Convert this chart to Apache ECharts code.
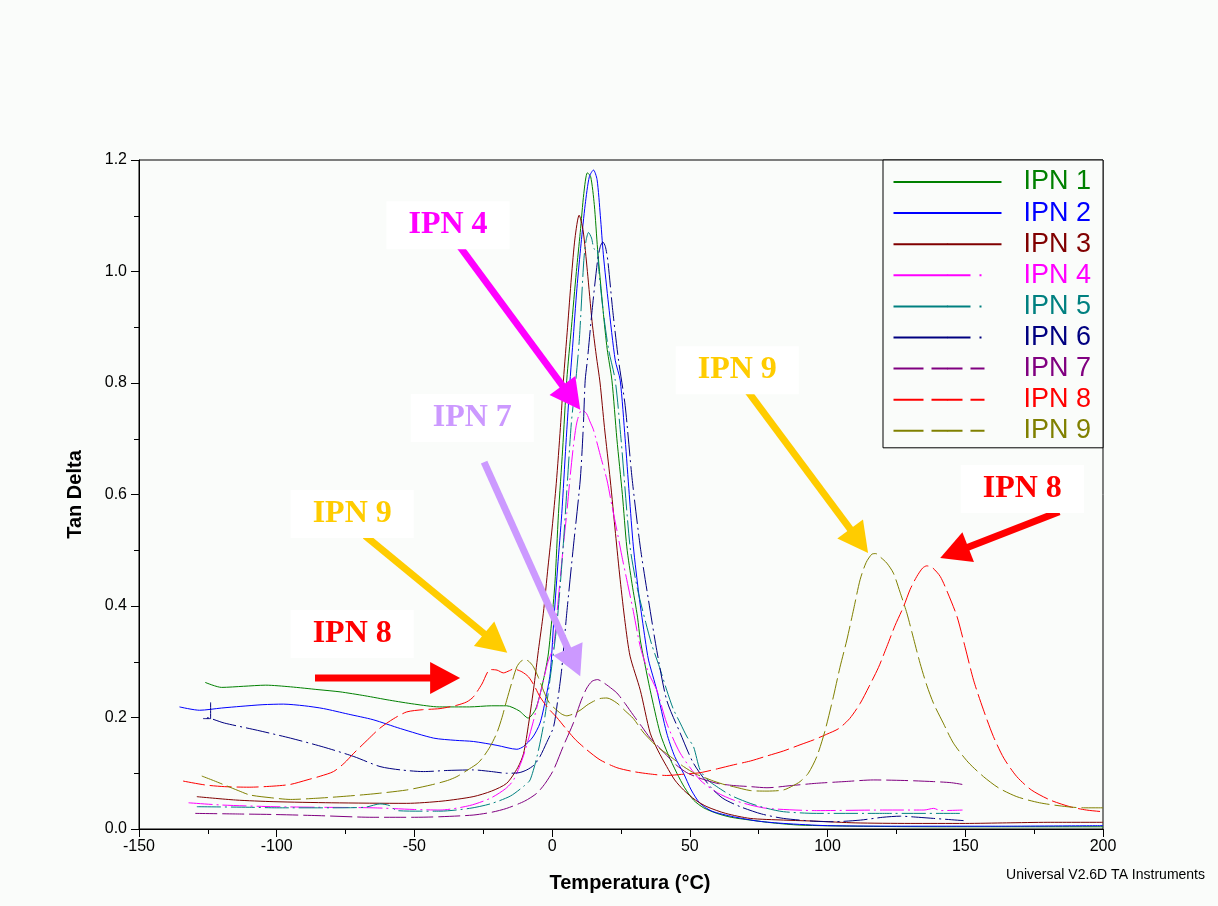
<!DOCTYPE html>
<html>
<head>
<meta charset="utf-8">
<script src="https://cdn.jsdelivr.net/npm/echarts@6/dist/echarts.min.js"></script>
<style>html,body{margin:0;padding:0;background:#fafcfa}#c{width:1218px;height:906px}</style>
</head>
<body>
<div id="c"></div>
<script>
// ---- data (temperature °C, tan delta) ----
const seriesNames = ['IPN 1','IPN 2','IPN 3','IPN 4','IPN 5','IPN 6','IPN 7','IPN 8','IPN 9'];
const xTicks = [-150,-100,-50,0,50,100,150,200];
const yTicks = [0.0,0.2,0.4,0.6,0.8,1.0,1.2];

const ipn1 = [[-126,0.263],[-120,0.254],[-112,0.256],[-104,0.258],[-95,0.255],[-85,0.25],[-77,0.246],[-68,0.239],[-59,0.231],[-50,0.224],[-41,0.219],[-30,0.219],[-22,0.221],[-16.5,0.221],[-12,0.212],[-8.7,0.199],[-6,0.215],[-3.5,0.26],[-1.5,0.31],[-0.3,0.366],[1,0.44],[2.3,0.566],[3.8,0.68],[5.3,0.805],[7,0.9],[8.8,1.0],[10.2,1.07],[11.5,1.14],[12.8,1.177],[14,1.17],[15.3,1.12],[16.5,1.04],[18.5,0.93],[20,0.86],[21.7,0.805],[23.5,0.7],[25.5,0.6],[27.1,0.506],[29,0.44],[31,0.38],[32,0.339],[33.5,0.3],[35.6,0.249],[39.2,0.172],[42,0.135],[45.3,0.1],[48,0.075],[51.3,0.052],[55,0.038],[59.8,0.028],[65,0.021],[71.9,0.016],[80,0.011],[90,0.007],[110,0.005],[140,0.004],[170,0.004],[200,0.004]];
const ipn2 = [[-135.3,0.219],[-128,0.213],[-120,0.217],[-113,0.22],[-105,0.223],[-97.6,0.224],[-90,0.221],[-83,0.216],[-74,0.206],[-65,0.196],[-55,0.18],[-43,0.163],[-35,0.159],[-28.6,0.157],[-20,0.15],[-12.8,0.143],[-10.4,0.148],[-7,0.165],[-4.4,0.19],[-2.5,0.23],[-0.7,0.279],[0.5,0.366],[2,0.47],[3.5,0.566],[5,0.69],[6.5,0.805],[7.5,0.87],[9,0.97],[10.5,1.05],[12,1.12],[13.5,1.17],[15,1.182],[16.3,1.165],[17.5,1.1],[18.6,1.03],[20.5,0.94],[22.9,0.841],[24.7,0.805],[26.5,0.7],[28,0.6],[29.5,0.506],[31.5,0.42],[33.8,0.339],[35,0.303],[38,0.249],[41.6,0.172],[44.5,0.13],[47.7,0.1],[50.5,0.07],[53.7,0.046],[58,0.032],[65.8,0.022],[75,0.014],[84,0.01],[100,0.006],[130,0.005],[160,0.005],[200,0.006]];
const ipn3 = [[-129,0.058],[-115,0.052],[-101,0.049],[-80,0.047],[-52.8,0.046],[-40,0.05],[-28.7,0.058],[-22,0.068],[-16.5,0.082],[-12.5,0.11],[-10.4,0.135],[-8.5,0.19],[-6.5,0.26],[-5,0.32],[-3.2,0.387],[-1.5,0.47],[0,0.54],[1.5,0.62],[3,0.72],[4.1,0.805],[5.6,0.9],[7,0.99],[8.3,1.06],[9.8,1.101],[11.2,1.075],[12.8,1.0],[14.5,0.91],[16,0.85],[17.4,0.8],[19,0.72],[21.1,0.626],[23,0.53],[24.7,0.447],[26.5,0.37],[28.3,0.31],[32,0.249],[35.6,0.172],[38.5,0.14],[41.6,0.112],[44.5,0.088],[47.7,0.07],[52,0.052],[56.2,0.04],[63,0.028],[71.9,0.019],[84,0.016],[96,0.014],[110,0.011],[130,0.01],[150,0.01],[165,0.011],[180,0.012],[200,0.012]];
const ipn4 = [[-132,0.047],[-120,0.043],[-101,0.04],[-85,0.039],[-65,0.038],[-50,0.035],[-40.7,0.034],[-30,0.042],[-22.5,0.055],[-17,0.072],[-14,0.088],[-10.5,0.13],[-7,0.19],[-4,0.25],[-1.5,0.3],[0.5,0.327],[1.8,0.39],[2.9,0.447],[4.1,0.51],[5.3,0.566],[6.5,0.63],[7.7,0.686],[9,0.73],[10.8,0.752],[12.5,0.745],[13.8,0.73],[15,0.716],[17.5,0.67],[19.9,0.626],[21.7,0.58],[23.5,0.536],[25.3,0.49],[27.1,0.447],[29.5,0.39],[32,0.327],[35,0.28],[38,0.249],[41.6,0.19],[46.5,0.136],[53.7,0.088],[60,0.065],[65.8,0.052],[72,0.043],[78,0.037],[96,0.033],[120,0.034],[135,0.034],[138.5,0.037],[141,0.033],[149,0.034]];
const ipn5 = [[-129,0.04],[-110,0.039],[-100,0.038],[-80,0.038],[-68,0.039],[-62.5,0.045],[-59,0.042],[-56.4,0.033],[-48,0.032],[-40.7,0.032],[-30,0.037],[-22.5,0.045],[-15.2,0.059],[-10,0.078],[-8,0.088],[-5.5,0.13],[-3,0.19],[-1,0.26],[1.7,0.366],[3.9,0.5],[5.5,0.62],[7,0.73],[8.5,0.8],[9.9,0.88],[11.5,1.02],[12.3,1.055],[13.2,1.07],[14.3,1.06],[15.3,1.04],[16.2,1.042],[17,1.0],[18.5,0.93],[20.5,0.86],[22.9,0.805],[25,0.7],[28.3,0.506],[31,0.43],[34,0.37],[36.2,0.33],[39,0.29],[41.6,0.249],[44,0.215],[46.5,0.19],[49,0.165],[51.3,0.148],[53.7,0.106],[56.5,0.088],[59.8,0.076],[65,0.06],[71.9,0.046],[78,0.037],[84,0.031],[96,0.028],[120,0.028],[149,0.028]];
const ipn6 = [[-124,0.227],[-124,0.198],[-126.7,0.198],[-126,0.2],[-119,0.19],[-107,0.177],[-95,0.163],[-83,0.147],[-72,0.13],[-62.5,0.112],[-55,0.106],[-46.7,0.103],[-38,0.105],[-28.6,0.106],[-22,0.103],[-16.5,0.1],[-12,0.101],[-9.2,0.106],[-6.5,0.115],[-4.4,0.13],[-2,0.155],[0.5,0.183],[2,0.23],[3.5,0.288],[5.3,0.387],[7.7,0.506],[10.2,0.626],[11.3,0.72],[12,0.805],[12.8,0.841],[14.5,0.93],[16.5,1.02],[17.5,1.045],[18.4,1.053],[19.3,1.045],[20.2,1.02],[22,0.93],[24.1,0.841],[26.5,0.76],[29,0.63],[32,0.506],[35,0.41],[38,0.32],[41.6,0.231],[46.5,0.172],[51.3,0.118],[57.4,0.076],[62,0.055],[68.3,0.04],[76,0.027],[84,0.019],[95,0.014],[102,0.013],[112,0.016],[120,0.021],[126.4,0.023],[133,0.021],[138.5,0.019],[149.4,0.015]];
const ipn7 = [[-129.6,0.028],[-115,0.027],[-101,0.026],[-85,0.024],[-65,0.021],[-50,0.021],[-40.7,0.022],[-28.7,0.025],[-22,0.03],[-16.5,0.037],[-10,0.05],[-5.6,0.064],[-2.5,0.082],[0.5,0.106],[4,0.148],[7.7,0.19],[10.5,0.23],[12.6,0.253],[14.5,0.265],[16.5,0.268],[18.5,0.263],[20.5,0.256],[23.5,0.244],[26.5,0.225],[29.5,0.204],[32.5,0.184],[35.6,0.163],[38.5,0.148],[41.6,0.132],[45,0.115],[48.9,0.101],[53.7,0.091],[59.8,0.082],[65.8,0.078],[72,0.076],[78,0.074],[87,0.078],[96,0.082],[106,0.085],[116.7,0.088],[128,0.087],[138.5,0.085],[145,0.083],[150,0.079]];
const ipn8 = [[-134,0.086],[-126,0.079],[-119,0.076],[-110,0.075],[-101,0.077],[-95,0.08],[-89,0.088],[-84,0.095],[-79.4,0.103],[-75.5,0.118],[-72,0.136],[-67,0.16],[-62.5,0.181],[-57.5,0.198],[-52.8,0.21],[-47,0.214],[-40.7,0.216],[-34.6,0.222],[-31,0.228],[-28.6,0.237],[-25.5,0.26],[-22.5,0.286],[-20,0.285],[-17.7,0.28],[-15.5,0.284],[-14,0.287],[-11,0.282],[-8.6,0.273],[-6.5,0.257],[-4.4,0.237],[-1.5,0.217],[1.7,0.2],[5,0.18],[8.5,0.16],[12.6,0.142],[17.4,0.124],[23.5,0.11],[29.5,0.103],[35,0.099],[41.6,0.096],[47,0.098],[53.7,0.101],[60,0.108],[65.8,0.115],[72,0.122],[78,0.131],[84,0.14],[90,0.151],[95,0.16],[99.7,0.17],[104,0.18],[108,0.198],[111.8,0.225],[115,0.255],[118.5,0.29],[121.5,0.327],[124.5,0.365],[127.6,0.399],[130,0.43],[132.4,0.453],[134.5,0.468],[136,0.472],[138,0.469],[140.9,0.453],[143.5,0.425],[147,0.381],[150,0.325],[153,0.267],[156.5,0.215],[160.2,0.166],[164,0.127],[168.7,0.094],[174,0.07],[180.8,0.052],[188,0.04],[194,0.034],[200,0.031]];
const ipn9 = [[-127.2,0.095],[-123,0.087],[-119,0.079],[-114,0.069],[-109.7,0.061],[-102,0.056],[-95,0.053],[-86,0.055],[-77,0.058],[-65,0.063],[-52.8,0.07],[-44,0.079],[-38,0.087],[-34.6,0.094],[-30,0.108],[-27,0.118],[-24.9,0.13],[-22.5,0.148],[-20.1,0.172],[-18.2,0.2],[-16.5,0.231],[-14.5,0.265],[-12.8,0.291],[-11.3,0.301],[-9.8,0.304],[-8.3,0.3],[-6.8,0.291],[-5,0.272],[-3.2,0.249],[-1,0.226],[1.7,0.213],[3.5,0.206],[5.3,0.203],[8,0.207],[10.5,0.214],[12.6,0.222],[15,0.229],[17.4,0.234],[19.9,0.235],[23.5,0.226],[26.5,0.212],[29.5,0.198],[33,0.174],[35.6,0.16],[38,0.148],[41.6,0.135],[44.5,0.124],[47.7,0.112],[52,0.099],[55,0.093],[58.6,0.086],[63,0.079],[65.8,0.076],[71.9,0.069],[78,0.068],[84,0.07],[87.6,0.078],[90,0.085],[93,0.1],[96.1,0.13],[99,0.175],[102.1,0.237],[104.5,0.29],[107,0.339],[109.5,0.395],[111.8,0.447],[114,0.478],[116.1,0.493],[117.5,0.494],[119.1,0.488],[121.5,0.477],[123.9,0.459],[126.3,0.425],[128.8,0.387],[131.2,0.342],[133.6,0.297],[136,0.258],[138.5,0.225],[142,0.19],[145.7,0.154],[151,0.12],[156.6,0.094],[162,0.074],[168.7,0.058],[177,0.047],[186.9,0.04],[193,0.038],[200,0.038]];

// annotation anchors in data units: label centre, arrow start, arrow tip
const annoTexts  = ['IPN 4','IPN 7','IPN 9','IPN 8','IPN 9','IPN 8'];
const annoLabels = [[-37.8,1.083],[-29,0.737],[-72.6,0.565],[-72.6,0.35],[67.2,0.823],[170.7,0.61]];
const annoFrom   = [[-33.4,1.044],[-24.7,0.658],[-67.9,0.526],[-86.1,0.271],[71.2,0.784],[184.1,0.569]];
const annoTo     = [[10.2,0.752],[10.2,0.274],[-16.3,0.316],[-33.4,0.271],[114.7,0.495],[140.9,0.486]];

// ---- styles ----
const seriesData = [ipn1,ipn2,ipn3,ipn4,ipn5,ipn6,ipn7,ipn8,ipn9];
const colors = ['#008000','#0000ff','#800000','#ff00ff','#008080','#000080','#800080','#ff0000','#808000'];
const DASHDOT = [24,4,2,4], DASH = [22,5];
const lineTypes = ['solid','solid','solid',DASHDOT,DASHDOT,DASHDOT,DASH,DASH,DASH];
const legendTypes = ['solid','solid','solid',[77,9,2,200],[77,9,2,200],[77,9,2,200],[30,8,31,8,14,200],[30,8,31,8,14,200],[30,8,31,8,14,200]];
const annoColors = ['#ff00ff','#cc99ff','#ffcc00','#ff0000','#ffcc00','#ff0000'];

const chart = echarts.init(document.getElementById('c'));
const SANS = '"Liberation Sans", Arial, sans-serif';

chart.setOption({
  animation: false,
  backgroundColor: '#fafcfa',
  grid: { left: 139, right: 115, top: 160, bottom: 77, show: true, borderColor: '#000', borderWidth: 1, backgroundColor: 'transparent' },
  legend: {
    left: 883, top: 160, orient: 'vertical',
    data: seriesNames.map((n,i)=>({ name: n, textStyle: { color: colors[i] }, lineStyle: { type: legendTypes[i] } })),
    itemWidth: 108, itemHeight: 2, itemGap: 4.1,
    padding: [8.5, 12, 3.5, 9.5],
    borderColor: '#000', borderWidth: 1, backgroundColor: '#fafcfa',
    lineStyle: { width: 2 },
    textStyle: { fontFamily: SANS, fontSize: 27, lineHeight: 27, padding: [0,0,0,17] }
  },
  xAxis: {
    type: 'value', min: xTicks[0], max: xTicks[xTicks.length-1], interval: 50,
    name: 'Temperatura (°C)', nameLocation: 'middle', nameGap: 44,
    nameTextStyle: { fontFamily: SANS, fontSize: 20, fontWeight: 'bold', color: '#000', padding: [0,0,0,18] },
    axisLine: { show: true, onZero: false, lineStyle: { color: '#000', width: 1 } },
    axisTick: { show: true, length: 8, lineStyle: { color: '#000' } },
    minorTick: { show: true, splitNumber: 2, length: 5, lineStyle: { color: '#000' } },
    splitLine: { show: false },
    axisLabel: { fontFamily: SANS, fontSize: 16, color: '#000', margin: 10 }
  },
  yAxis: {
    type: 'value', min: yTicks[0], max: yTicks[yTicks.length-1], interval: 0.2,
    name: 'Tan Delta', nameLocation: 'middle', nameGap: 54,
    nameTextStyle: { fontFamily: SANS, fontSize: 20, fontWeight: 'bold', color: '#000' },
    axisLine: { show: true, onZero: false, lineStyle: { color: '#000', width: 1 } },
    axisTick: { show: true, length: 8, lineStyle: { color: '#000' } },
    minorTick: { show: true, splitNumber: 2, length: 5, lineStyle: { color: '#000' } },
    splitLine: { show: false },
    axisLabel: { fontFamily: SANS, fontSize: 16, color: '#000', margin: 12, formatter: v => v.toFixed(1) }
  },
  series: seriesNames.map((n,i)=>({
    name: n, type: 'line', data: seriesData[i], symbol: 'none', showSymbol: false,
    smooth: 0.25, z: 2,
    lineStyle: { color: colors[i], width: 1, type: lineTypes[i] },
    itemStyle: { color: colors[i] }
  }))
});

// annotations: arrows + boxed labels, positioned through the axes
const g = [];
for (let i = 0; i < annoTexts.length; i++) {
  const p0 = chart.convertToPixel({gridIndex:0}, annoFrom[i]);
  const p1 = chart.convertToPixel({gridIndex:0}, annoTo[i]);
  const dx = p1[0]-p0[0], dy = p1[1]-p0[1], L = Math.hypot(dx,dy);
  const ux = dx/L, uy = dy/L, px = -uy, py = ux;
  const headLen = 30, halfW = 16;
  const bx = p1[0]-ux*headLen, by = p1[1]-uy*headLen;
  g.push({ type: 'line', z: 50, shape: { x1: p0[0], y1: p0[1], x2: bx+ux*3, y2: by+uy*3 }, style: { stroke: annoColors[i], lineWidth: 7 } });
  g.push({ type: 'polygon', z: 50, shape: { points: [[p1[0],p1[1]],[bx+px*halfW,by+py*halfW],[bx-px*halfW,by-py*halfW]] }, style: { fill: annoColors[i] } });
  const lp = chart.convertToPixel({gridIndex:0}, annoLabels[i]);
  g.push({ type: 'text', z: 60, x: lp[0], y: lp[1], style: {
    text: annoTexts[i], align: 'center', verticalAlign: 'middle',
    font: 'bold 32px "Liberation Serif", "Times New Roman", serif',
    fill: annoColors[i], backgroundColor: '#ffffff', padding: [8,22,8,22]
  }});
}
g.push({ type: 'text', right: 13, top: 868, style: { text: 'Universal V2.6D TA Instruments', font: '14px "Liberation Sans", Arial, sans-serif', fill: '#000' } });
chart.setOption({ graphic: g });
</script>
</body>
</html>
